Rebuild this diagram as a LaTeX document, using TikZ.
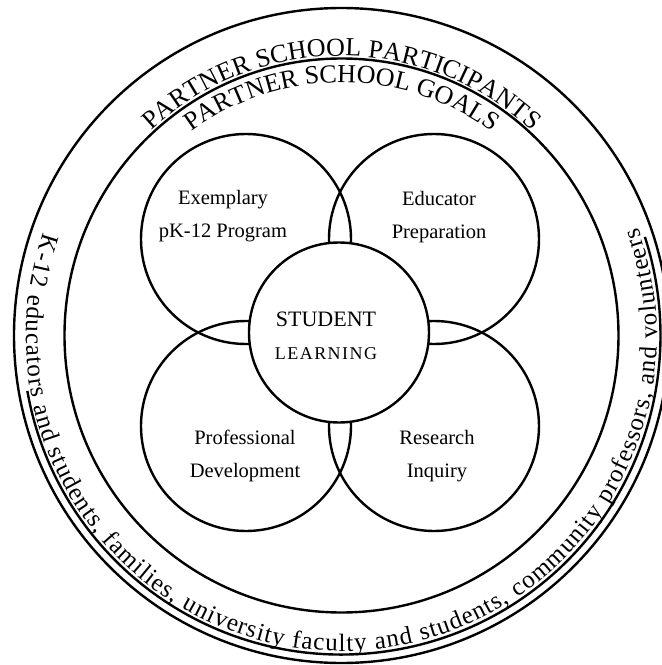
\documentclass[tikz,border=0pt]{standalone}
\usepackage{fontspec}
\setmainfont{Liberation Serif}
\usetikzlibrary{decorations.text}
\newcommand\rimfont{\fontsize{26}{26}\selectfont}
\newcommand\listfont{\fontsize{25}{25}\selectfont}
\tikzset{
  goal/.style={draw, circle, line width=2.4pt, minimum size=210pt, inner sep=0pt},
  hub/.style={goal, fill=white, minimum size=180pt},
  lbl/.style={align=center, font=\fontsize{20.5}{33}\selectfont},
  rim/.style={line width=2.4pt},
}
\begin{document}
\begin{tikzpicture}[x=1pt,y=1pt]
\useasboundingbox (-340,-332.5) rectangle (322,332.5);
\coordinate (c) at (1.5,-3);
% participants ring
\draw[rim] (c) circle[radius=327.5];
\draw[rim] (c) circle[radius=277];
\draw[rim] ([shift={(190:319)}]c) arc[start angle=190, end angle=378, radius=319];
\path[decorate, decoration={text along path, text align=center,
    text={|\rimfont|PARTNER SCHOOL PARTICIPANTS}}]
  ([shift={(135:279.5)}]c) arc[start angle=135, end angle=45, radius=279.5];
\path[decorate, decoration={text along path, text align=center,
    text={|\rimfont|PARTNER SCHOOL GOALS}}]
  ([shift={(130:253)}]c) arc[start angle=130, end angle=50, radius=253];
\path[decorate, decoration={text along path, text align={fit to path},
    text={|\listfont|K-12 educators and students, families, university faculty and students, community professors, and volunteers}}]
  ([shift={(161:315.5)}]c) arc[start angle=161, end angle=380, radius=315.5];
% goals
\node[goal] (ex) at (-94,93.5) {};
\node[goal] (ed) at (94,93.5) {};
\node[goal] (pd) at (-94,-93.5) {};
\node[goal] (ri) at (94,-93.5) {};
\node[hub] (sl) at (-1,0) {};
\node[lbl, xshift=-23pt, yshift=23pt] (ex-t) at (ex) {Exemplary\\pK-12 Program};
\node[lbl, xshift=5pt, yshift=22pt] (ed-t) at (ed) {Educator\\Preparation};
\node[lbl, xshift=-1pt, yshift=-30pt] (pd-t) at (pd) {Professional\\Development};
\node[lbl, xshift=3pt, yshift=-30pt] (ri-t) at (ri) {Research\\Inquiry};
\node[lbl, xshift=-13pt, yshift=-3.5pt] (sl-t) at (sl)
  {\fontsize{22}{33}\selectfont STUDENT\\\fontsize{18}{33}\selectfont\addfontfeature{LetterSpace=8}LEARNING};
\end{tikzpicture}
\end{document}
